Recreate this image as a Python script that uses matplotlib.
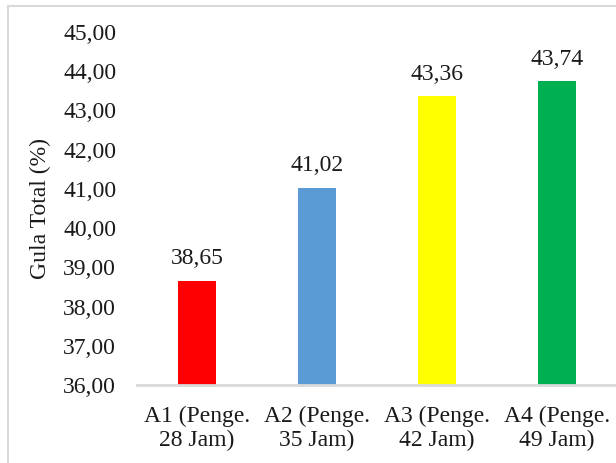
import matplotlib
matplotlib.use("Agg")
import matplotlib.pyplot as plt
from matplotlib.lines import Line2D

# sugar content per fermentation treatment
categories = ["A1 (Penge.\n28 Jam)", "A2 (Penge.\n35 Jam)",
              "A3 (Penge.\n42 Jam)", "A4 (Penge.\n49 Jam)"]
values = [38.65, 41.02, 43.36, 43.74]
colors = ["#FF0000", "#5B9BD5", "#FFFF00", "#00B050"]
yticks = [36, 37, 38, 39, 40, 41, 42, 43, 44, 45]

plt.rcParams['font.family'] = ['Liberation Serif', 'DejaVu Serif']

W, H = 616, 463
fig = plt.figure(figsize=(W / 100, H / 100), dpi=100)
ax = fig.add_axes([137 / W, 1 - 385 / H, 480 / W, (385 - 32) / H])

x = range(len(values))
bars = ax.bar(x, values, width=0.32, color=colors, bottom=0, zorder=2)
for xi, v in zip(x, values):
    ax.text(xi, v + 0.3, f"{v:.2f}".replace(".", ","), ha="center",
            va="bottom", fontsize=17, color="#1a1a1a")

ax.set_xlim(-0.5, len(values) - 0.5)
ax.set_ylim(36, 45)
ax.set_yticks(yticks)
ax.set_yticklabels([f"{t:.2f}".replace(".", ",") for t in yticks])
ax.set_xticks(list(x))
ax.set_xticklabels(categories, linespacing=1.2)
ax.tick_params(axis="y", length=0, pad=15, labelsize=17, labelcolor="#1a1a1a")
ax.tick_params(axis="x", length=0, pad=15, labelsize=17, labelcolor="#1a1a1a")
ax.set_ylabel("Gula Total (%)", fontsize=17, color="#1a1a1a", labelpad=9)

for side in ["left", "right", "top"]:
    ax.spines[side].set_visible(False)
ax.spines["bottom"].set_color("#d9d9d9")
ax.spines["bottom"].set_linewidth(2)

# chart frame
fig.add_artist(Line2D([7.5 / W, 7.5 / W], [0, 1 - 5.5 / H], color="#d9d9d9",
                      lw=1.5, transform=fig.transFigure))
fig.add_artist(Line2D([7.5 / W, 1], [1 - 5.5 / H, 1 - 5.5 / H], color="#d9d9d9",
                      lw=1.5, transform=fig.transFigure))

fig.savefig("out.png", dpi=100)
